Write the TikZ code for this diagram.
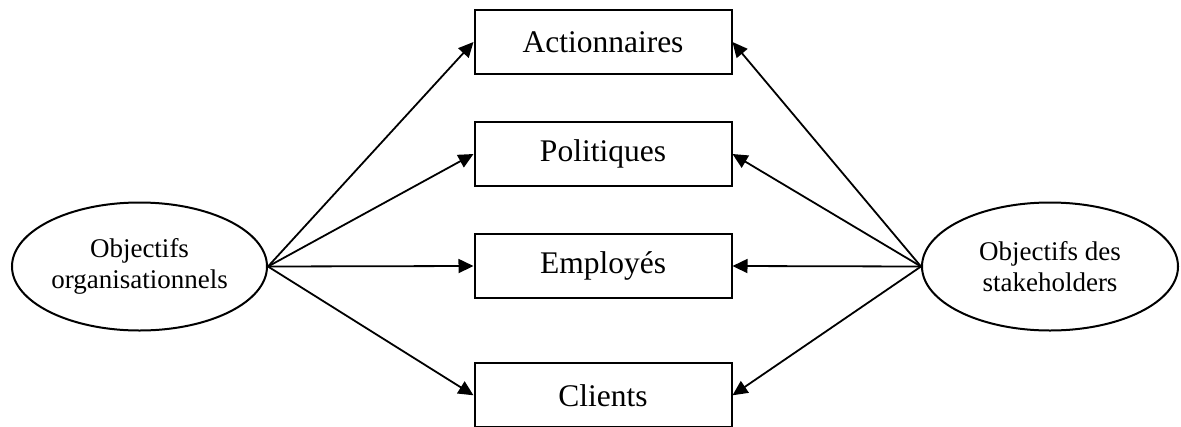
\documentclass[tikz,border=0pt]{standalone}
\usepackage{fontspec}
\setmainfont{Liberation Serif}
\usetikzlibrary{arrows.meta,shapes.geometric}
\tikzset{
  boxnode/.style={draw, line width=2pt, minimum width=257pt, minimum height=64pt, inner sep=0pt,
    font=\fontsize{31.5}{36}\selectfont},
  ovalnode/.style={draw, ellipse, line width=2pt, inner sep=0pt, align=center,
    font=\fontsize{27}{31.6}\selectfont},
  conn/.style={line width=1.8pt, -{Triangle[length=15pt,width=14pt]}}
}
\begin{document}
\begin{tikzpicture}[x=1pt,y=-1pt]
\useasboundingbox (0,0) rectangle (1181,426);
\node[boxnode] (A) at (603,42) {Actionnaires};
\node[boxnode] (P) at (603,154) {Politiques};
\node[boxnode] (E) at (603,266) {Employés};
\node[boxnode] (C) at (603,395.3) {Clients};
\node[ovalnode, minimum width=255pt, minimum height=128pt] (L) at (139.5,266.5) {Objectifs\\organisationnels};
\node[ovalnode, minimum width=256pt, minimum height=128pt] (R) at (1050,266.5) {Objectifs des\\stakeholders};
\foreach \t in {A,P,E,C}{
  \draw[conn] (L.east) -- (\t.west);
  \draw[conn] (R.west) -- (\t.east);
}
\end{tikzpicture}
\end{document}
